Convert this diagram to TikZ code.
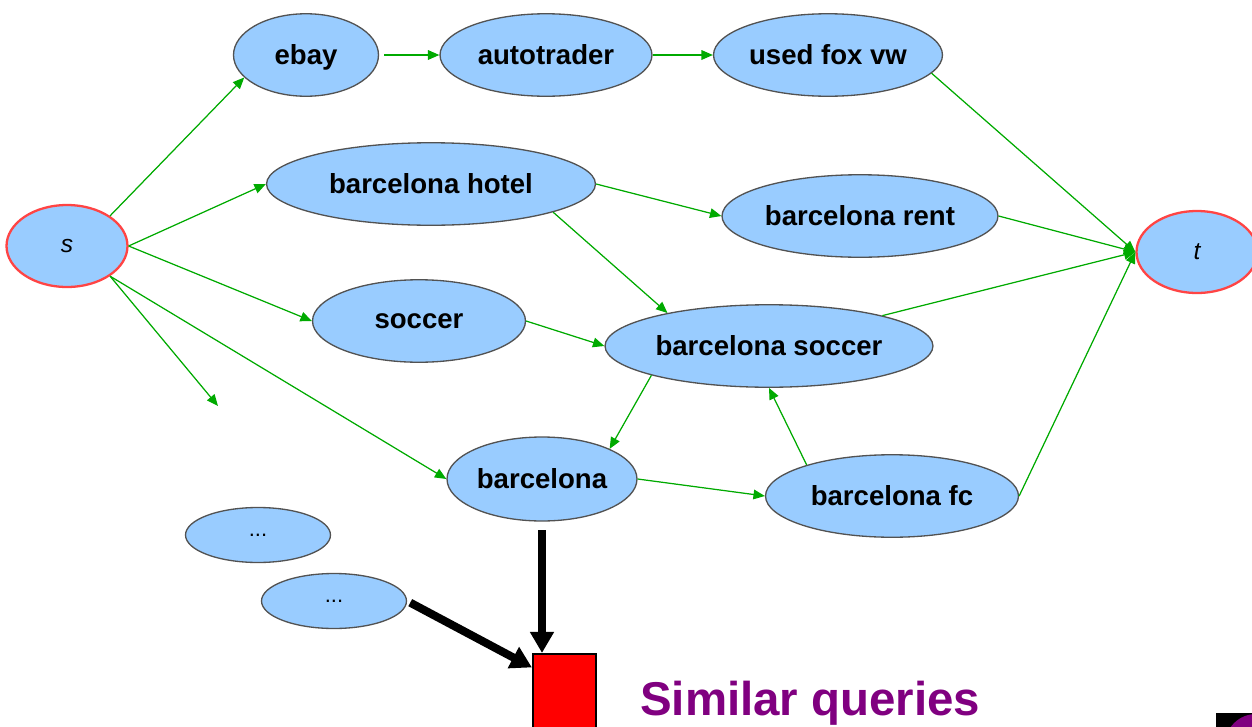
\documentclass[tikz,border=0pt]{standalone}
\usepackage{fontspec}
\setmainfont{Liberation Sans}
\usepackage{xcolor}
\usetikzlibrary{arrows.meta}
\usetikzlibrary{shapes.geometric}
\definecolor{qblue}{HTML}{99CCFF}
\definecolor{qgreen}{HTML}{00AA00}
\definecolor{qred}{HTML}{FF4444}
\definecolor{qpurple}{HTML}{800080}

\begin{document}
\begin{tikzpicture}[x=0.02cm,y=-0.02cm]
\tikzstyle{query}=[ellipse,draw=black!68,line width=0.75pt,fill=qblue,inner sep=0pt,text depth=0pt,minimum height=1.65cm,font=\fontsize{15.7}{18}\selectfont\bfseries]
\tikzstyle{term}=[ellipse,draw=qred,line width=1.3pt,fill=qblue,inner sep=0pt,minimum width=2.42cm,minimum height=1.64cm,font=\fontsize{14}{17}\selectfont\itshape]
\tikzstyle{more}=[ellipse,draw=black!68,line width=0.75pt,fill=qblue,inner sep=0pt,text depth=0pt,minimum width=2.9cm,minimum height=1.1cm,font=\fontsize{12.5}{14}\selectfont]
\tikzstyle{link}=[draw=qgreen,fill=qgreen,line width=0.7pt,arrows={-Triangle[length=6.5pt,width=5.5pt]}]
\tikzstyle{big}=[draw=black,line width=4.6pt,arrows={-Triangle[length=12pt,width=13pt]}]
\useasboundingbox (0,0) rectangle (1252,727);

% source, sink
\node[term] (s) at (67,246) {s};
\node[term] (t) at (1197,252) {t};

% query nodes
\node[query,minimum width=2.9cm] (ebay) at (306,55) {ebay};
\node[query,minimum width=4.24cm] (auto) at (546,55) {autotrader};
\node[query,minimum width=4.58cm] (usedfox) at (828,55) {used fox vw};
\node[query,minimum width=6.58cm] (bhotel) at (431,184) {barcelona hotel};
\node[query,minimum width=5.52cm] (brent) at (860,216) {barcelona rent};
\node[query,minimum width=4.26cm] (soccer) at (419,321) {soccer};
\node[query,minimum width=6.56cm] (bsoccer) at (769,346) {barcelona soccer};
\node[query,minimum width=3.8cm,minimum height=1.68cm] (barca) at (542,479) {barcelona};
\node[query,minimum width=5.06cm] (bfc) at (892,496) {barcelona fc};
\node[more] (dots1) at (258,535) {...};
\node[more] (dots2) at (334,601) {...};
\coordinate (open) at (218,406);

% result
\node[draw=black,line width=1.2pt,fill=red,minimum width=1.26cm,minimum height=1.84cm,inner sep=0pt] (box) at (564.5,700) {};
\node[anchor=base west,text=qpurple,font=\fontsize{27}{32}\selectfont\bfseries] (similar) at (634,715) {Similar queries};

% green links
\path (s.35) edge [link] (ebay.200);
\path (s.east) edge [link] (bhotel.west);
\path (s.east) edge [link] (soccer.west);
\path (s.-35) edge [link] (barca.west);
\path (s.-35) edge [link] (open);
\path (ebay.east) edge [link,shorten <=3pt] (auto.west);
\path (auto.east) edge [link] (usedfox.west);
\path (usedfox.-10) edge [link] (t.west);
\path (bhotel.east) edge [link] (brent.west);
\path (bhotel.-13) edge [link] (bsoccer.162);
\path (brent.east) edge [link] (t.west);
\path (soccer.east) edge [link] (bsoccer.west);
\path (bsoccer.15) edge [link] (t.west);
\path (bsoccer.194) edge [link] (barca.24);
\path (barca.east) edge [link] (bfc.west);
\path (bfc.160) edge [link] (bsoccer.south);
\path (bfc.east) edge [link] (t.west);

% thick arrows
\draw[big,shorten <=5pt] (barca.south) -- (barca.south |- box.north);
\draw[big,shorten <=2pt] (dots2.east) -- (box.135);

% corner logo
\fill[black] (1216,713) rectangle (1252,727);
\fill[qpurple] (1256,745) circle (31);
\end{tikzpicture}
\end{document}
